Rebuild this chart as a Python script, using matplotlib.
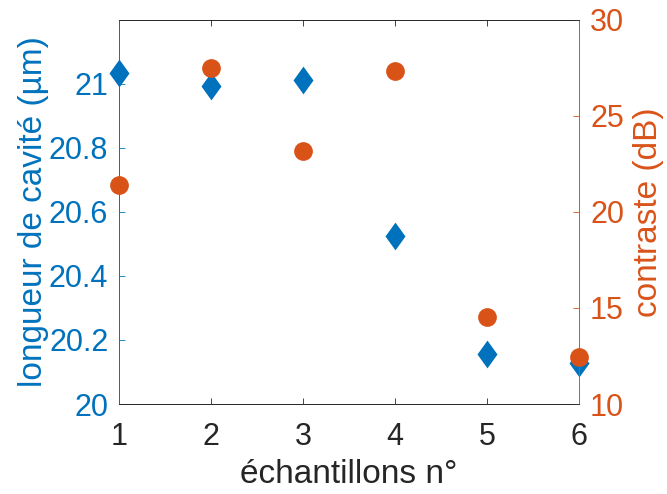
import matplotlib
matplotlib.use("Agg")
import matplotlib.pyplot as plt

plt.rcParams['font.family'] = ['Liberation Sans', 'DejaVu Sans']

samples = [1, 2, 3, 4, 5, 6]
cavity_length = [21.033, 20.994, 21.010, 20.523, 20.156, 20.128]
contrast_db = [21.38, 27.50, 23.18, 27.33, 14.51, 12.46]

left_ticks = [20, 20.2, 20.4, 20.6, 20.8, 21]
left_ticklabels = ['20', '20.2', '20.4', '20.6', '20.8', '21']
right_ticks = [10, 15, 20, 25, 30]

blue = '#0072BD'
orange = '#D95319'
gray = '#262626'
tfs = 22
lfs = 24

fig = plt.figure(figsize=(6.67, 4.94), dpi=100)
ax = fig.add_axes([0.179, 0.182, 0.689, 0.7785])
ax2 = ax.twinx()

diamond = [(0, 1), (0.72, 0), (0, -1), (-0.72, 0), (0, 1)]
ax.plot(samples, cavity_length, linestyle='none', marker=diamond, markersize=20,
        color=blue, markeredgewidth=0, clip_on=False, zorder=3)
ax2.plot(samples, contrast_db, linestyle='none', marker='o', markersize=13.5,
         color=orange, markeredgewidth=0, clip_on=False, zorder=3)

ax.set_xlim(1, 6)
ax.set_ylim(20, 21.2)
ax2.set_ylim(10, 30)
ax.set_xticks(samples)
ax.set_yticks(left_ticks)
ax.set_yticklabels(left_ticklabels)
ax2.set_yticks(right_ticks)

ax.tick_params(axis='x', direction='in', colors=gray, labelsize=tfs, top=True,
               length=4, width=0.6, pad=13)
ax.tick_params(axis='y', direction='in', colors=blue, labelsize=tfs, length=4,
               width=0.6, pad=8)
ax2.tick_params(axis='y', direction='in', colors=orange, labelsize=tfs, length=4,
                width=0.6, pad=8)

for a in (ax, ax2):
    a.spines['top'].set_color(gray)
    a.spines['bottom'].set_color(gray)
    a.spines['left'].set_color(blue)
    a.spines['right'].set_color(orange)
    for s in a.spines.values():
        s.set_linewidth(0.6)

ax.set_xlabel('échantillons n°', fontsize=lfs, color=gray, labelpad=5)
ax.set_ylabel('longueur de cavité (µm)', fontsize=lfs, color=blue, labelpad=0)
ax2.set_ylabel('contraste (dB)', fontsize=lfs, color=orange, labelpad=6)

fig.savefig('out.png', dpi=100)
